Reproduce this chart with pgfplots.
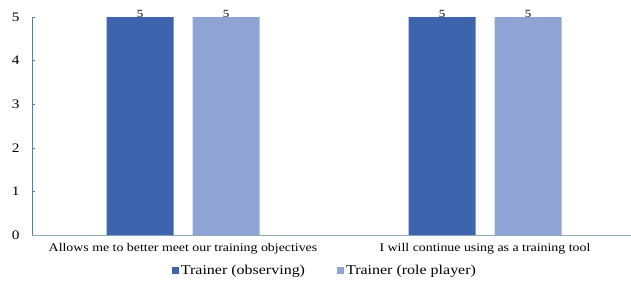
\documentclass[border=0pt]{standalone}
\usepackage{pgfplots}
\pgfplotsset{compat=1.18}
\usepackage{fontspec}
\setmainfont[FakeStretch=1.18]{Liberation Serif}
\definecolor{dark}{HTML}{3D64AD}
\definecolor{light}{HTML}{8FA4D4}
\definecolor{yax}{HTML}{4A7EBB}
\definecolor{xax}{HTML}{8FAAB8}
\begin{document}
\begin{tikzpicture}[x=1bp,y=1bp]
\path[use as bounding box] (-32bp,-48bp) rectangle (599bp,235bp);
\begin{axis}[
  at={(0,0)}, anchor=south west,
  scale only axis, width=604bp, height=218bp,
  ybar=19bp, bar width=67bp,
  xmin=-0.5, xmax=1.5, ymin=0, ymax=5,
  xtick=data,
  xticklabels={Allows me to better meet our training objectives, I will continue using as a training tool},
  x tick label style={font=\fontsize{11.8}{12}\selectfont, yshift=-5bp},
  ytick={0,1,2,3,4,5},
  y tick label style={font=\fontsize{13}{14}\selectfont, xshift=-9bp},
  /pgf/number format/assume math mode=true,
  axis x line*=bottom, axis y line*=left,
  axis line style={-},
  x axis line style={draw=xax, line width=0.8bp},
  y axis line style={draw=yax, line width=0.8bp},
  major x tick style={draw=none},
  ytick style={draw=yax, line width=0.6bp},
  tick align=inside, major tick length=3bp,
  nodes near coords,
  every node near coord/.append style={font=\fontsize{11}{12}\selectfont, yshift=-4bp},
  legend style={draw=none, at={(0.485,-0.165)}, anchor=center, legend columns=2,
    font=\fontsize{13.6}{15}\selectfont, /tikz/every even column/.append style={column sep=30bp}},
  legend image code/.code={\fill[#1] (0bp,-3.5bp) rectangle (7bp,3.5bp);},
  clip=false,
]
\addplot[fill=dark, draw=none] coordinates {(0,5) (1,5)};
\addplot[fill=light, draw=none] coordinates {(0,5) (1,5)};
\legend{Trainer (observing), Trainer (role player)}
\end{axis}
\end{tikzpicture}
\end{document}
